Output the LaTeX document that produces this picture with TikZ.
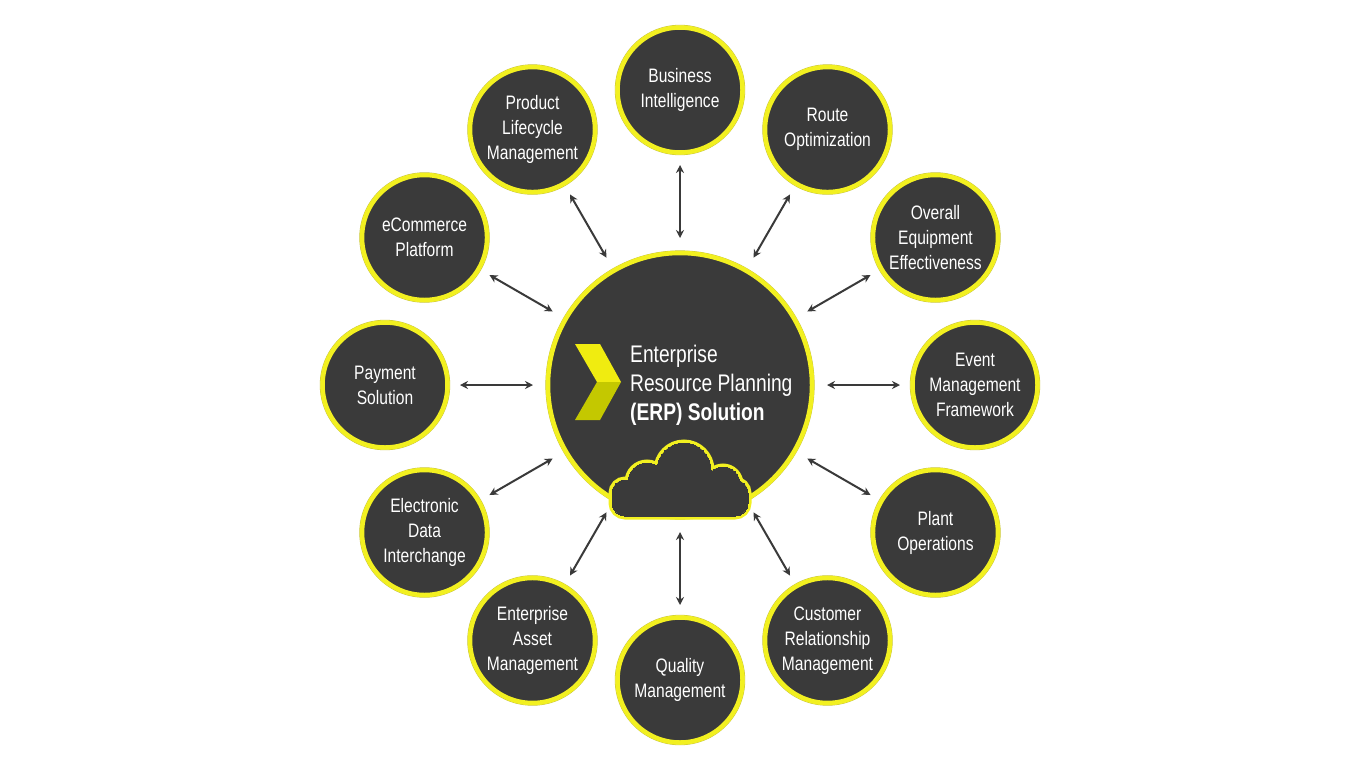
\documentclass[tikz,border=0pt]{standalone}
\usepackage{fontspec}
\setmainfont{Liberation Sans}[FakeStretch=0.8]
\usetikzlibrary{arrows.meta,calc}
\definecolor{dk}{HTML}{3A3A3A}
\definecolor{yl}{HTML}{F2F020}
\definecolor{yle}{HTML}{C8C43A}
\definecolor{ch1}{HTML}{F0EC10}
\definecolor{ch2}{HTML}{C4C800}
\begin{document}
\begin{tikzpicture}[x=1pt,y=-1pt,
  sat/.style={circle,fill=dk,draw=yl,line width=4.5pt,minimum size=125pt,inner sep=0pt,
    text=white,font=\fontsize{19.5}{25}\selectfont,align=center},
  con/.style={draw=dk,line width=2pt,{Stealth[length=8pt,width=8pt]}-{Stealth[length=8pt,width=8pt]}}]
\useasboundingbox (0,0) rectangle (1360,772);
\fill[white] (0,0) rectangle (1360,772);
% central circle
\coordinate (c) at (680,385);
\draw[yle,line width=0.8pt] (c) circle (134.2);
\node[circle,fill=dk,draw=yl,line width=4.5pt,minimum size=264pt,inner sep=0pt] (erp) at (c) {};
% chevron
\fill[ch1] (575,344) -- (600,344) -- (621,382) -- (597,382) -- cycle;
\fill[ch2] (575,420) -- (600,420) -- (621,382) -- (597,382) -- cycle;
\node[anchor=west,text=white,font=\fontsize{24}{29}\selectfont,align=left,inner sep=0pt] (erpt) at (630,385)
  {Enterprise\\Resource Planning\\\textbf{(ERP) Solution}};
% cloud
\foreach \w/\col in {7pt/yl,0pt/dk}{
  \path[draw=\col,fill=\col,line width=\w,rounded corners=13pt] (612,480) rectangle (748,516);
  \path[draw=\col,fill=\col,line width=\w] (684,470) circle (27);
  \path[draw=\col,fill=\col,line width=\w] (647,482) circle (19);
  \path[draw=\col,fill=\col,line width=\w] (723,484) circle (17);
}
% satellites
\foreach \n/\a/\t in {
  bi/90/{Business\\Intelligence},
  ro/60/{Route\\Optimization},
  oe/30/{Overall\\Equipment\\Effectiveness},
  ev/0/{Event\\Management\\Framework},
  po/-30/{Plant\\Operations},
  cr/-60/{Customer\\Relationship\\Management},
  qm/-90/{Quality\\Management},
  ea/-120/{Enterprise\\Asset\\Management},
  ed/-150/{Electronic\\Data\\Interchange},
  ps/180/{Payment\\Solution},
  ec/150/{eCommerce\\Platform},
  pl/120/{Product\\Lifecycle\\Management}}{
  \coordinate (p\n) at ($(c)+({295*cos(\a)},{-295*sin(\a)})$);
  \draw[yle,line width=0.8pt] (p\n) circle (64.8);
  \node[sat] (\n) at (p\n) {\t};
  \coordinate (s\n) at ($(c)+({147*cos(\a)},{-147*sin(\a)})$);
  \coordinate (e\n) at ($(c)+({220*cos(\a)},{-220*sin(\a)})$);
  \draw[con] (s\n) -- (e\n);
}
\end{tikzpicture}
\end{document}
